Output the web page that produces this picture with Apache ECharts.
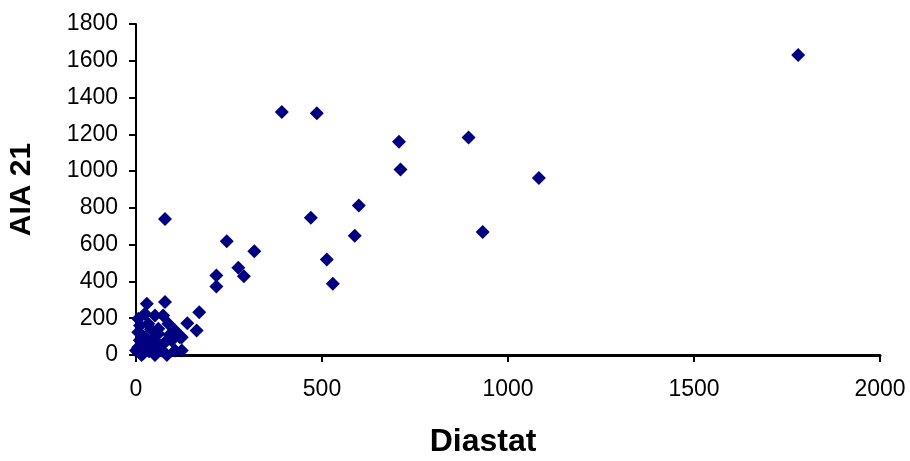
<!DOCTYPE html>
<html>
<head>
<meta charset="utf-8">
<script src="https://cdn.jsdelivr.net/npm/echarts@6/dist/echarts.min.js"></script>
<style>
  html, body { margin: 0; padding: 0; background: #fff; }
  #chart { width: 910px; height: 461px; }
</style>
</head>
<body>
<div id="chart"></div>
<script>
// Diastat (x) vs AIA 21 (y)
const diastat = [
  1780, 392, 486, 707, 711, 894, 1083, 599, 470, 588, 932, 513, 529,
  78, 244, 318, 275, 290, 216, 216,
  29, 78, 170, 138, 163, 123, 123,
  6, 24, 51, 73, 11, 33, 87, 60, 105, 118, 96, 24, 6, 0, 42, 69, 78, 105, 51, 15, 83, 47, 60, 6,
  30, 15, 40, 65, 90, 20, 35, 55, 10
]
const aia21 = [
  1631, 1322, 1314, 1159, 1009, 1183, 963, 813, 747, 649, 669, 519, 388,
  739, 618, 564, 475, 428, 433, 373,
  279, 288, 233, 173, 133, 97, 25,
  197, 224, 215, 215, 161, 170, 170, 143, 133, 97, 79, 97, 42, 25, 42, 25, 70, 25, 0, 0, 0, 88, 115, 124,
  60, 110, 140, 50, 110, 10, 20, 60, 80
]
const xTicks = [0, 500, 1000, 1500, 2000]
const yTicks = [0, 200, 400, 600, 800, 1000, 1200, 1400, 1600, 1800]

const points = diastat.map((x, i) => [x, aia21[i]])

const chart = echarts.init(document.getElementById('chart'))
const font = 'Liberation Sans, Arial, sans-serif'

chart.setOption({
  animation: false,
  grid: { left: 136, right: 30, top: 24, bottom: 106, outerBoundsMode: 'none' },
  xAxis: {
    type: 'value',
    min: xTicks[0],
    max: xTicks[xTicks.length - 1],
    interval: 500,
    name: 'Diastat',
    nameLocation: 'middle',
    nameGap: 71,
    nameTextStyle: { fontFamily: font, fontSize: 32, fontWeight: 'bold', color: '#000', padding: [0, 50, 0, 0] },
    axisLine: { lineStyle: { color: '#000', width: 3 } },
    axisTick: { show: true, length: 7, lineStyle: { color: '#000', width: 2 } },
    axisLabel: { fontFamily: font, fontSize: 23, color: '#000', margin: 23, formatter: v => String(v) },
    splitLine: { show: false }
  },
  yAxis: {
    type: 'value',
    min: yTicks[0],
    max: yTicks[yTicks.length - 1],
    interval: 200,
    name: 'AIA 21',
    nameLocation: 'middle',
    nameGap: 91,
    nameTextStyle: { fontFamily: font, fontSize: 30, fontWeight: 'bold', color: '#000', padding: [0, 0, 8, 0] },
    axisLine: { lineStyle: { color: '#000', width: 2 } },
    axisTick: { show: true, length: 7, lineStyle: { color: '#000', width: 2 } },
    axisLabel: { fontFamily: font, fontSize: 23, color: '#000', margin: 18, formatter: v => String(v) },
    splitLine: { show: false }
  },
  series: [{
    type: 'scatter',
    symbol: 'diamond',
    symbolSize: 14,
    itemStyle: { color: '#000080', opacity: 1 },
    data: points
  }]
})
</script>
</body>
</html>
